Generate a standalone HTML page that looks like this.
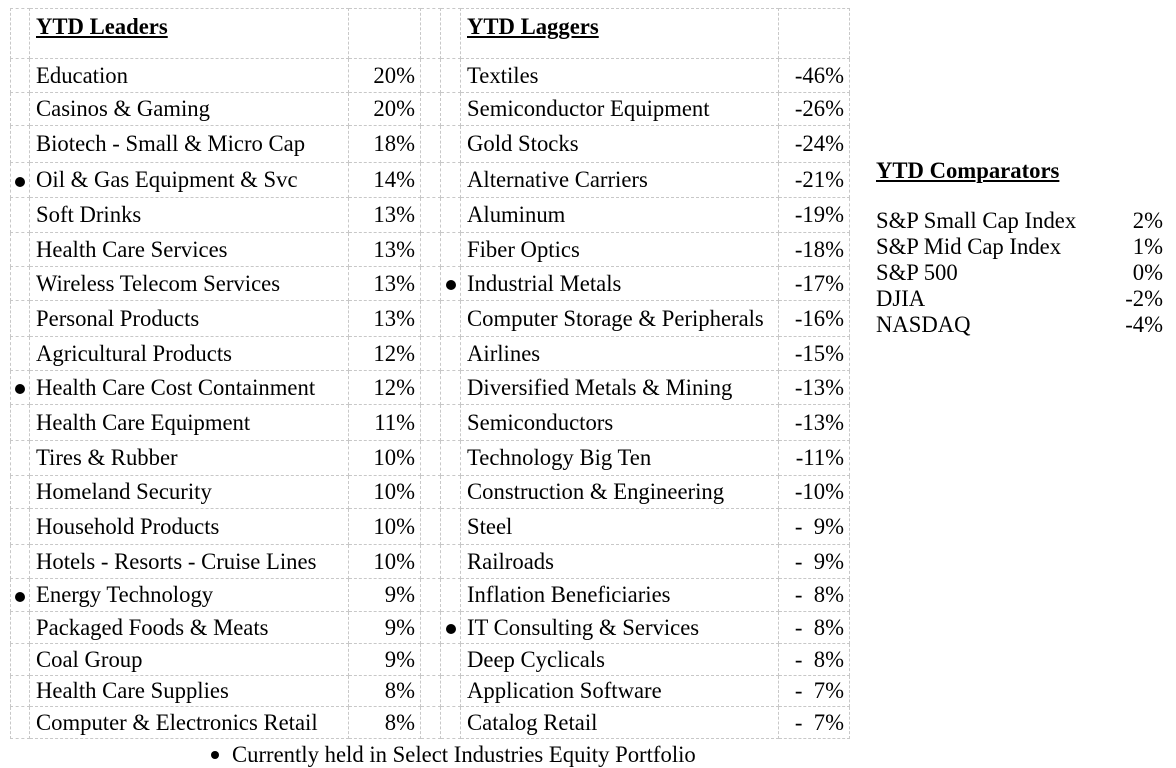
<!DOCTYPE html>
<html><head><meta charset="utf-8"><style>
body{margin:0;width:1176px;height:768px;background:#fff;font-family:"Liberation Serif",serif;color:#000;position:relative;overflow:hidden}
table{position:absolute;left:10px;top:8px;border-collapse:collapse;table-layout:fixed;font-size:22.7px}
td{border:1px dashed #c8c8c8;padding:0;white-space:nowrap;vertical-align:middle;overflow:hidden}
td.l{padding-left:6px}
td.v{text-align:right;padding-right:5px}
td.b{text-align:center}
i.d{display:inline-block;width:10px;height:10px;border-radius:50%;background:#000;vertical-align:middle}
tr.h td{vertical-align:top;padding-top:5px}
.hd{font-weight:bold;text-decoration:underline}
.cmp{position:absolute;left:876px;font-size:22.7px;width:287px;white-space:nowrap}
.cmp span{position:absolute;right:0}
</style></head><body>
<table>
<colgroup><col style="width:19px"><col style="width:319px"><col style="width:72px"><col style="width:20px"><col style="width:20px"><col style="width:318px"><col style="width:71px"></colgroup>
<tr class="h" style="height:50px"><td></td><td class="l"><span class="hd">YTD Leaders</span></td><td></td><td></td><td></td><td class="l"><span class="hd">YTD Laggers</span></td><td></td></tr>
<tr style="height:34px"><td></td><td class="l">Education</td><td class="v">20%</td><td></td><td></td><td class="l">Textiles</td><td class="v">-46%</td></tr>
<tr style="height:33px"><td></td><td class="l">Casinos &amp; Gaming</td><td class="v">20%</td><td></td><td></td><td class="l">Semiconductor Equipment</td><td class="v">-26%</td></tr>
<tr style="height:37px"><td></td><td class="l">Biotech - Small &amp; Micro Cap</td><td class="v">18%</td><td></td><td></td><td class="l">Gold Stocks</td><td class="v">-24%</td></tr>
<tr style="height:35px"><td class="b"><i class="d"></i></td><td class="l">Oil &amp; Gas Equipment &amp; Svc</td><td class="v">14%</td><td></td><td></td><td class="l">Alternative Carriers</td><td class="v">-21%</td></tr>
<tr style="height:35px"><td></td><td class="l">Soft Drinks</td><td class="v">13%</td><td></td><td></td><td class="l">Aluminum</td><td class="v">-19%</td></tr>
<tr style="height:34px"><td></td><td class="l">Health Care Services</td><td class="v">13%</td><td></td><td></td><td class="l">Fiber Optics</td><td class="v">-18%</td></tr>
<tr style="height:34px"><td></td><td class="l">Wireless Telecom Services</td><td class="v">13%</td><td></td><td class="b"><i class="d"></i></td><td class="l">Industrial Metals</td><td class="v">-17%</td></tr>
<tr style="height:36px"><td></td><td class="l">Personal Products</td><td class="v">13%</td><td></td><td></td><td class="l">Computer Storage &amp; Peripherals</td><td class="v">-16%</td></tr>
<tr style="height:34px"><td></td><td class="l">Agricultural Products</td><td class="v">12%</td><td></td><td></td><td class="l">Airlines</td><td class="v">-15%</td></tr>
<tr style="height:34px"><td class="b"><i class="d"></i></td><td class="l">Health Care Cost Containment</td><td class="v">12%</td><td></td><td></td><td class="l">Diversified Metals &amp; Mining</td><td class="v">-13%</td></tr>
<tr style="height:36px"><td></td><td class="l">Health Care Equipment</td><td class="v">11%</td><td></td><td></td><td class="l">Semiconductors</td><td class="v">-13%</td></tr>
<tr style="height:35px"><td></td><td class="l">Tires &amp; Rubber</td><td class="v">10%</td><td></td><td></td><td class="l">Technology Big Ten</td><td class="v">-11%</td></tr>
<tr style="height:33px"><td></td><td class="l">Homeland Security</td><td class="v">10%</td><td></td><td></td><td class="l">Construction &amp; Engineering</td><td class="v">-10%</td></tr>
<tr style="height:36px"><td></td><td class="l">Household Products</td><td class="v">10%</td><td></td><td></td><td class="l">Steel</td><td class="v">-&nbsp; 9%</td></tr>
<tr style="height:34px"><td></td><td class="l">Hotels - Resorts - Cruise Lines</td><td class="v">10%</td><td></td><td></td><td class="l">Railroads</td><td class="v">-&nbsp; 9%</td></tr>
<tr style="height:33px"><td class="b"><i class="d"></i></td><td class="l">Energy Technology</td><td class="v">9%</td><td></td><td></td><td class="l">Inflation Beneficiaries</td><td class="v">-&nbsp; 8%</td></tr>
<tr style="height:32px"><td></td><td class="l">Packaged Foods &amp; Meats</td><td class="v">9%</td><td></td><td class="b"><i class="d"></i></td><td class="l">IT Consulting &amp; Services</td><td class="v">-&nbsp; 8%</td></tr>
<tr style="height:32px"><td></td><td class="l">Coal Group</td><td class="v">9%</td><td></td><td></td><td class="l">Deep Cyclicals</td><td class="v">-&nbsp; 8%</td></tr>
<tr style="height:31px"><td></td><td class="l">Health Care Supplies</td><td class="v">8%</td><td></td><td></td><td class="l">Application Software</td><td class="v">-&nbsp; 7%</td></tr>
<tr style="height:32px"><td></td><td class="l">Computer &amp; Electronics Retail</td><td class="v">8%</td><td></td><td></td><td class="l">Catalog Retail</td><td class="v">-&nbsp; 7%</td></tr>
</table>
<div style="position:absolute;left:211px;top:742px;font-size:22.7px;white-space:nowrap"><i class="d" style="width:8px;height:8px;margin-right:13px;position:relative;top:-2px"></i>Currently held in Select Industries Equity Portfolio</div>
<div class="cmp hd" style="top:158px;width:auto">YTD Comparators</div>
<div class="cmp" style="top:208px">S&amp;P Small Cap Index<span>2%</span></div>
<div class="cmp" style="top:234px">S&amp;P Mid Cap Index<span>1%</span></div>
<div class="cmp" style="top:260px">S&amp;P 500<span>0%</span></div>
<div class="cmp" style="top:286px">DJIA<span>-2%</span></div>
<div class="cmp" style="top:312px">NASDAQ<span>-4%</span></div>
</body></html>
